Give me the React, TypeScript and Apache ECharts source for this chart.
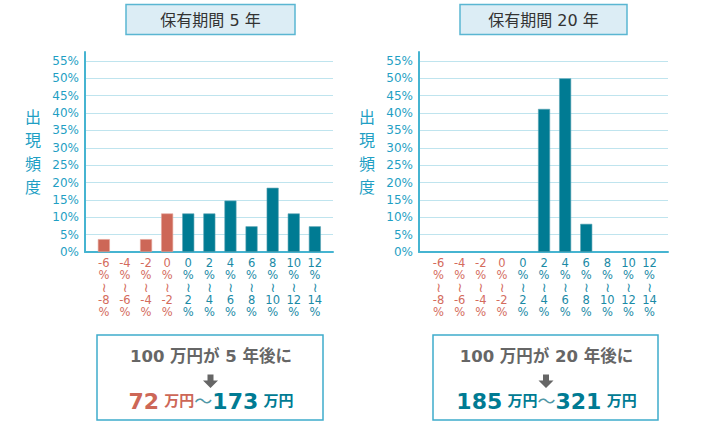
import React, { useEffect, useRef } from "react";
import * as echarts from "echarts";

// ---- data ----
const rangeFrom = ["-6", "-4", "-2", "0", "0", "2", "4", "6", "8", "10", "12"];
const rangeTo = ["-8", "-6", "-4", "-2", "2", "4", "6", "8", "10", "12", "14"];
const lossCount = 4; // first categories are negative-return ranges
const freq5y = [3.7, 0, 3.7, 11.1, 11.1, 11.1, 14.8, 7.4, 18.5, 11.1, 7.4];
const freq20y = [0, 0, 0, 0, 0, 41.2, 50, 8.1, 0, 0, 0];
const yTicks = { min: 0, max: 55, interval: 5 };
const titles = ["保有期間 5 年", "保有期間 20 年"];
const summaryLine1 = ["100 万円が 5 年後に", "100 万円が 20 年後に"];
const summaryLow = ["72", "185"];
const summaryHigh = ["173", "321"];
const yAxisTitle = "出現頻度";

const RED = "#cd6757";
const TEAL = "#007b93";
const LBL_RED = "#d46b5d";
const LBL_TEAL = "#1a8aa6";
const AXIS = "#46b4d1";
const GRID = "#bfe4ee";
const YLBL = "#1f9fc4";
const FONT = "'DejaVu Sans', 'Noto Sans CJK JP', sans-serif";

export default function App() {
  const ref = useRef<HTMLDivElement>(null);
  useEffect(() => {
    if (!ref.current) return;
    const chart = echarts.init(ref.current, undefined, { renderer: "svg" });

    const gridTop = 52;
    const gridBottomY = 252;
    const gridH = gridBottomY - gridTop;
    const pxPerUnit = (gridBottomY - 61) / yTicks.max;
    const yMax = gridH / pxPerUnit;

    const panels = [
      { axisX: 85, rightX: 333, catStart: 93.3, title: [126, 295], box: [97, 323], yTitleX: 33, low: RED },
      { axisX: 419, rightX: 668, catStart: 428, title: [460, 627], box: [433, 658], yTitleX: 367, low: TEAL },
    ];
    const datasets = [freq5y, freq20y];
    const catWidth = 21.1 * rangeFrom.length;

    const grids: any[] = [];
    const xAxes: any[] = [];
    const yAxes: any[] = [];
    const series: any[] = [];
    const graphics: any[] = [];

    panels.forEach((p, i) => {
      // background grid with axes and split lines
      grids.push({ left: p.axisX, top: gridTop, width: p.rightX - p.axisX, height: gridH });
      xAxes.push({
        gridIndex: 2 * i,
        type: "value",
        min: 0,
        max: 1,
        axisLine: { show: true, lineStyle: { color: AXIS, width: 2 } },
        axisTick: { show: false },
        axisLabel: { show: false },
        splitLine: { show: false },
      });
      yAxes.push({
        gridIndex: 2 * i,
        type: "value",
        min: yTicks.min,
        max: yMax,
        interval: yTicks.interval,
        axisLine: { show: true, lineStyle: { color: AXIS, width: 2 } },
        axisTick: { show: false },
        axisLabel: {
          color: YLBL,
          fontSize: 12,
          fontFamily: FONT,
          margin: 6,
          formatter: (v: number) => (Math.abs(v % yTicks.interval) < 1e-6 && v <= yTicks.max ? v + "%" : ""),
        },
        splitLine: { show: true, showMaxLine: false, lineStyle: { color: GRID, width: 1 } },
      });
      // bar grid
      grids.push({ left: p.catStart, top: gridTop, width: catWidth, height: gridH });
      xAxes.push({
        gridIndex: 2 * i + 1,
        type: "category",
        data: rangeFrom.map((f, k) => f + "|" + rangeTo[k]),
        axisLine: { show: false },
        axisTick: { show: false },
        axisLabel: {
          interval: 0,
          margin: 5,
          fontSize: 11.5,
          lineHeight: 12.25,
          fontFamily: FONT,
          color: (_v: any, idx: number) => (idx < lossCount ? LBL_RED : LBL_TEAL),
          formatter: (v: string) => {
            const [a, b] = v.split("|");
            return `{n|${a}}\n{n|%}\n{w|≀}\n{n|${b}}\n{n|%}`;
          },
          rich: {
            n: { fontSize: 11.5, lineHeight: 12.25, fontFamily: FONT },
            w: { fontSize: 13, lineHeight: 12.25, fontFamily: FONT },
          },
        },
      });
      yAxes.push({ gridIndex: 2 * i + 1, type: "value", min: 0, max: yMax, show: false });
      series.push({
        type: "bar",
        xAxisIndex: 2 * i + 1,
        yAxisIndex: 2 * i + 1,
        barWidth: 12,
        data: datasets[i].map((v, k) => ({
          value: v,
          itemStyle: {
            color: k < lossCount ? RED : TEAL,
            borderColor: k < lossCount ? "#e4a59b" : "#5aa3b4",
            borderWidth: v > 0 ? 0.6 : 0,
          },
        })),
      });

      // title box
      graphics.push({
        type: "rect",
        shape: { x: p.title[0], y: 4.5, width: p.title[1] - p.title[0], height: 30 },
        style: { fill: "#dcedf5", stroke: "#5ab6d2", lineWidth: 1.5 },
      });
      graphics.push({
        type: "text",
        style: {
          text: titles[i],
          x: (p.title[0] + p.title[1]) / 2,
          y: 20,
          textAlign: "center",
          textVerticalAlign: "middle",
          fill: "#333333",
          font: `16px ${FONT}`,
        },
      });
      // y axis title
      graphics.push({
        type: "text",
        style: {
          text: yAxisTitle.split("").join("\n"),
          x: p.yTitleX,
          y: 105.5,
          textAlign: "center",
          textVerticalAlign: "top",
          lineHeight: 23.5,
          fill: YLBL,
          font: `16px ${FONT}`,
        },
      });
      // summary box
      const cx = (p.box[0] + p.box[1]) / 2;
      graphics.push({
        type: "rect",
        shape: { x: p.box[0], y: 335, width: p.box[1] - p.box[0], height: 85 },
        style: { fill: "#ffffff", stroke: "#3eaccc", lineWidth: 1.5 },
      });
      graphics.push({
        type: "text",
        style: {
          text: summaryLine1[i],
          x: cx + 1,
          y: 356,
          textAlign: "center",
          textVerticalAlign: "middle",
          fill: "#666666",
          font: `bold 16.5px ${FONT}`,
        },
      });
      graphics.push({
        type: "polygon",
        shape: {
          points: [
            [cx - 2.5, 374.5],
            [cx + 3.5, 374.5],
            [cx + 3.5, 380.5],
            [cx + 8, 380.5],
            [cx + 0.5, 388],
            [cx - 7, 380.5],
            [cx - 2.5, 380.5],
          ],
        },
        style: { fill: "#666666" },
      });
      graphics.push({
        type: "text",
        style: {
          text: `{lo|${summaryLow[i]}}{lu| 万円}{w|〜}{hi|${summaryHigh[i]}}{hu| 万円}`,
          x: cx + 1,
          y: 401,
          textAlign: "center",
          textVerticalAlign: "middle",
          rich: {
            lo: { fill: p.low, fontSize: 22, fontWeight: "bold", fontFamily: FONT },
            lu: { fill: p.low, fontSize: 15, fontWeight: "bold", fontFamily: FONT },
            w: { fill: "#4f97a6", fontSize: 18, fontFamily: FONT },
            hi: { fill: TEAL, fontSize: 22, fontWeight: "bold", fontFamily: FONT },
            hu: { fill: TEAL, fontSize: 15, fontWeight: "bold", fontFamily: FONT },
          },
        },
      });
    });

    chart.setOption({
      animation: false,
      backgroundColor: "#ffffff",
      textStyle: { fontFamily: FONT },
      grid: grids,
      xAxis: xAxes,
      yAxis: yAxes,
      series,
      graphic: graphics,
    });
    return () => chart.dispose();
  }, []);

  return (
    <div
      ref={ref}
      style={{ position: "fixed", left: 0, top: 0, width: 707, height: 426, background: "#fff" }}
    />
  );
}
